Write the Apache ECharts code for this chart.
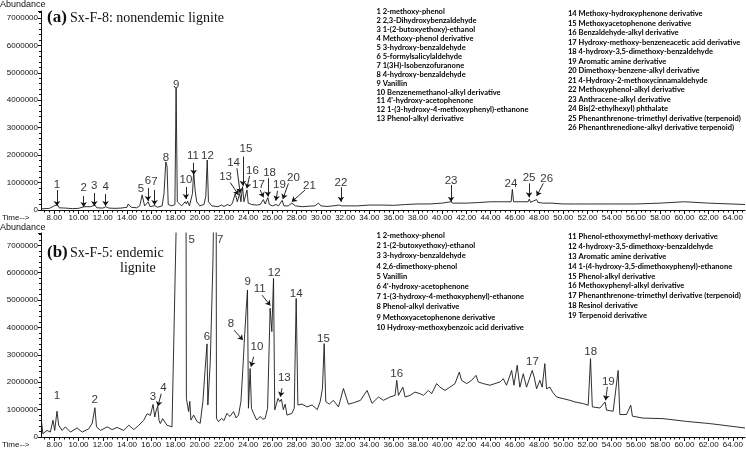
<!DOCTYPE html>
<html>
<head>
<meta charset="utf-8">
<script src="https://cdn.jsdelivr.net/npm/echarts@6/dist/echarts.min.js"></script>
<style>
    html, body { margin: 0; padding: 0; background: #fff; }
    #chart { width: 746px; height: 449px; }
</style>
</head>
<body>
<div id="chart"></div>
<script>
    // retention time (min), abundance (millions)
    var topTrace = [
        [6.9,0.04],[7.6,0.06],[7.95,0.14],[8.05,0.07],[8.25,0.2],[8.4,0.08],[8.9,0.07],[9.5,0.05],
        [10.0,0.06],[10.45,0.12],[10.6,0.07],[11.0,0.12],[11.1,0.07],[11.35,0.18],[11.5,0.08],
        [12.0,0.07],[12.25,0.12],[12.5,0.07],[13.0,0.06],[13.5,0.07],[14.0,0.1],[14.1,0.22],
        [14.35,0.1],[14.8,0.08],[15.05,0.15],[15.25,0.55],[15.45,0.15],[15.75,0.3],[15.9,0.12],
        [16.3,0.16],[16.5,0.1],[16.9,0.15],[17.05,0.6],[17.2,1.75],[17.3,1.6],[17.4,0.2],
        [17.7,0.15],[17.95,0.2],[18.05,4.45],[18.15,0.3],[18.5,0.15],[18.8,0.3],[18.9,0.22],
        [19.0,0.32],[19.15,0.15],[19.4,0.6],[19.5,1.4],[19.62,0.7],[19.75,0.3],[20.0,0.15],
        [20.35,0.2],[20.5,0.5],[20.62,1.82],[20.72,0.3],[21.0,0.15],[21.5,0.12],[21.8,0.18],
        [22.0,0.13],[22.3,0.2],[22.5,0.15],[22.7,0.25],[22.93,0.6],[23.1,0.3],[23.3,0.6],
        [23.4,0.3],[23.53,0.85],[23.65,0.3],[23.9,0.73],[24.0,0.25],[24.3,0.2],[24.7,0.18],
        [25.0,0.2],[25.25,0.38],[25.4,0.22],[25.62,0.45],[25.75,0.2],[26.0,0.15],[26.3,0.2],
        [26.5,0.15],[26.8,0.35],[26.95,0.15],[27.3,0.15],[27.6,0.25],[27.9,0.15],[28.5,0.12],
        [29.0,0.14],[29.5,0.15],[29.8,0.25],[30.0,0.15],[30.5,0.13],[31.0,0.15],[31.5,0.18],
        [31.7,0.15],[32.5,0.15],[33.0,0.15],[34.0,0.18],[35.0,0.18],[36.0,0.17],[37.0,0.2],
        [38.0,0.22],[39.0,0.22],[40.0,0.25],[40.7,0.3],[40.9,0.25],[42.0,0.25],[43.0,0.27],
        [44.0,0.3],[45.0,0.3],[45.7,0.3],[45.8,0.75],[45.9,0.3],[46.5,0.3],[47.1,0.3],[47.2,0.4],
        [47.3,0.28],[47.8,0.38],[47.9,0.28],[48.3,0.25],[49.0,0.25],[50.0,0.22],[51.0,0.22],
        [52.0,0.22],[54.0,0.22],[56.0,0.22],[58.0,0.25],[60.0,0.3],[62.0,0.25],[65.0,0.2]
    ];

    var bottomTrace = [
        [6.93,0.61],[7.05,0.12],[7.4,0.24],[7.67,0.18],[7.89,0.61],[8.03,0.24],[8.22,0.94],
        [8.36,0.43],[8.64,0.24],[8.91,0.37],[9.33,0.18],[9.88,0.33],[10.3,0.18],[10.85,0.3],
        [11.13,0.51],[11.35,1.07],[11.48,0.37],[11.81,0.24],[12.36,0.37],[12.77,0.27],[13.18,0.35],
        [13.73,0.24],[14.15,0.43],[14.56,0.27],[14.97,0.43],[15.38,0.61],[15.66,0.85],[15.93,0.79],
        [16.15,1.19],[16.29,0.73],[16.42,0.99],[16.53,1.12],[16.64,0.61],[16.75,0.49],[16.94,0.67],
        [17.3,0.43],[17.71,0.37],[17.82,0.35],[18.1,8.6],[18.5,15],[18.87,8],[18.9,1.41],
        [19.08,0.93],[19.18,1.3],[19.27,0.62],[19.5,0.8],[19.77,0.57],[20.04,0.5],[20.26,1.29],
        [20.45,2.5],[20.6,3.4],[20.67,1.17],[20.87,2.76],[21.09,6.4],[21.28,12],[21.36,8],
        [21.38,0.68],[21.55,0.56],[21.8,0.68],[22.0,0.6],[22.24,0.86],[22.5,0.75],[22.79,0.93],
        [23.0,0.7],[23.2,0.8],[23.4,1.29],[23.56,2.5],[23.67,3.42],[23.84,4.7],[23.94,5.37],
        [24.02,1.05],[24.16,2.5],[24.27,1.05],[24.44,0.86],[24.7,0.62],[24.99,0.75],[25.2,0.65],
        [25.4,0.68],[25.6,1.05],[25.81,4.7],[25.95,3.85],[26.09,5.79],[26.19,0.99],[26.46,1.41],
        [26.6,1.29],[26.74,1.38],[26.9,1.0],[27.05,1.2],[27.2,0.8],[27.6,0.86],[27.8,1.05],
        [27.96,5.06],[28.1,1.17],[28.45,1.2],[28.85,1.1],[29.27,1.17],[29.7,1.0],[29.94,1.29],
        [30.13,1.78],[30.27,3.41],[30.4,1.29],[30.7,1.2],[31.03,1.34],[31.45,1.1],[31.86,1.77],
        [32.27,1.2],[32.7,1.25],[33.27,1.34],[33.81,1.7],[34.22,1.23],[34.75,1.46],[35.16,1.34],
        [35.71,1.46],[36.12,1.52],[36.26,2.07],[36.4,1.52],[36.76,1.82],[36.95,1.46],[37.36,1.52],
        [37.77,1.64],[38.19,1.58],[38.46,1.52],[38.87,1.7],[39.14,1.58],[39.55,1.95],[39.83,1.82],
        [40.24,1.7],[40.65,1.82],[41.07,1.95],[41.42,2.37],[41.61,2.07],[42.03,1.95],[42.44,2.07],
        [42.8,2.25],[42.99,2.01],[43.4,1.95],[43.95,1.89],[44.36,1.95],[44.78,2.01],[45.05,2.13],
        [45.32,1.89],[45.74,2.43],[45.93,1.89],[46.2,2.62],[46.42,1.82],[46.7,2.31],[46.97,1.82],
        [47.44,2.43],[47.6,2.19],[47.8,1.76],[48.07,2.07],[48.26,1.82],[48.48,2.68],[48.62,1.76],
        [48.9,1.82],[49.12,1.64],[49.45,1.46],[50.0,1.4],[50.55,1.34],[50.96,1.28],[51.65,1.22],
        [52.06,1.16],[52.25,2.86],[52.4,1.1],[53.03,1.06],[53.45,1.28],[53.57,0.98],[54.12,0.94],
        [54.53,2.43],[54.67,0.82],[55.22,0.82],[55.57,1.16],[55.71,0.76],[56.59,0.69],[58.24,0.67],
        [60.16,0.57],[62.09,0.49],[65.0,0.33]
    ];

    // peak numbers: [label, time, abundance]
    var topPeakLabels = [
        ['1',8.22,0.91],['2',10.42,0.79],['3',11.3,0.88],['4',12.23,0.83],['5',15.15,0.76],
        ['6',15.73,1.06],['7',16.27,1.01],['8',17.21,1.91],['9',18.06,4.56],['10',18.86,1.09],
        ['11',19.44,1.97],['12',20.64,1.97],['13',22.13,1.22],['14',22.79,1.73],['15',23.81,2.22],
        ['16',24.35,1.42],['17',24.85,0.91],['18',25.76,1.36],['19',26.58,0.91],['20',27.74,1.18],
        ['21',29.06,0.88],['22',31.65,1.0],['23',40.74,1.07],['24',45.69,0.97],['25',47.18,1.16],
        ['26',48.63,1.13]
    ];
    // arrows: [fromTime, fromAbund, toTime, toAbund]
    var topArrows = [
        [8.22,0.73,8.22,0.15],[10.42,0.51,10.42,0.11],[11.3,0.62,11.3,0.15],[12.23,0.58,12.23,0.15],
        [15.73,0.8,15.73,0.33],[16.27,0.73,16.27,0.18],[18.86,0.84,18.86,0.4],[19.5,1.72,19.5,1.28],
        [22.52,1.0,23.2,0.55],[23.07,1.52,23.34,0.61],[23.56,1.95,23.56,0.88],[24.11,1.24,23.89,0.79],
        [24.99,0.73,25.26,0.46],[25.62,1.16,25.62,0.49],[26.42,0.7,26.28,0.34],[27.32,0.97,26.86,0.4],
        [28.7,0.73,27.6,0.3],[31.65,0.83,31.65,0.3],[40.74,0.91,40.74,0.3],[47.18,0.97,47.18,0.46],
        [48.35,0.97,47.81,0.51]
    ];

    var bottomPeakLabels = [
        ['1',8.22,1.52],['2',11.33,1.34],['3',16.14,1.46],['4',17.0,1.8],['5',19.34,7.19],
        ['6',20.59,3.65],['7',21.69,7.19],['8',22.57,4.15],['9',23.95,5.67],['10',24.72,3.3],
        ['11',24.95,5.4],['12',26.14,6.01],['13',26.98,2.17],['14',27.96,5.24],['15',30.21,3.6],
        ['16',36.26,2.31],['17',47.46,2.74],['18',52.26,3.1],['19',53.72,2.0]
    ];
    var bottomArrows = [
        [16.82,1.58,16.55,1.12],[22.84,3.9,23.56,3.54],[24.45,2.93,24.23,2.57],
        [25.14,5.18,25.83,4.8],[26.79,1.78,26.65,1.47],[53.64,1.83,53.5,1.34]
    ];

    var topCompounds = [
        '2-methoxy-phenol', '2,3-Dihydroxybenzaldehyde', '1-(2-butoxyethoxy)-ethanol',
        'Methoxy-phenol derivative', '3-hydroxy-benzaldehyde', '5-formylsalicylaldehyde',
        '1(3H)-Isobenzofuranone', '4-hydroxy-benzaldehyde', 'Vanillin',
        'Benzenemethanol-alkyl derivative', '4\'-hydroxy-acetophenone',
        '1-(3-hydroxy-4-methoxyphenyl)-ethanone', 'Phenol-alkyl derivative',
        'Methoxy-hydroxyphenone derivative', 'Methoxyacetophenone derivative',
        'Benzaldehyde-alkyl derivative', 'Hydroxy-methoxy-benzeneacetic acid derivative',
        '4-hydroxy-3,5-dimethoxy-benzaldehyde', 'Aromatic amine derivative',
        'Dimethoxy-benzene-alkyl derivative', '4-Hydroxy-2-methoxycinnamaldehyde',
        'Methoxyphenol-alkyl derivative', 'Anthracene-alkyl derivative',
        'Bis(2-ethylhexyl) phthalate', 'Phenanthrenone-trimethyl derivative (terpenoid)',
        'Phenanthrenedione-alkyl derivative terpenoid)'
    ];
    var bottomCompounds = [
        '2-methoxy-phenol', '1-(2-butoxyethoxy)-ethanol', '3-hydroxy-benzaldehyde',
        '2,6-dimethoxy-phenol', 'Vanillin', '4\'-hydroxy-acetophenone',
        '1-(3-hydroxy-4-methoxyphenyl)-ethanone', 'Phenol-alkyl derivative',
        'Methoxyacetophenone derivative', 'Hydroxy-methoxybenzoic acid derivative',
        'Phenol-ethoxymethyl-methoxy derivative', '4-hydroxy-3,5-dimethoxy-benzaldehyde',
        'Aromatic amine derivative', '1-(4-hydroxy-3,5-dimethoxyphenyl)-ethanone',
        'Phenol-alkyl derivative', 'Methoxyphenyl-alkyl derivative',
        'Phenanthrenone-trimethyl derivative (terpenoid)', 'Resinol derivative',
        'Terpenoid derivative'
    ];

    var timeLabels = [8, 10, 12, 14, 16, 18, 20, 22, 24, 26, 28, 30, 32, 34, 36, 38, 40, 42,
        44, 46, 48, 50, 52, 54, 56, 58, 60, 62, 64];
    var timeMin = 6.9, timeMax = 65;

    var minorTimes = [];
    for (var k = 18; k <= 162; k++) {
        minorTimes.push(Math.round(k * 4) / 10);
    }

    var sans = 'Liberation Sans';
    var serif = 'Liberation Serif';
    var legendFont = 'Lato';

    function mainX(gridIndex) {
        return {
            type: 'value', gridIndex: gridIndex, position: 'bottom', min: timeMin, max: timeMax,
            splitLine: { show: false },
            axisLine: { lineStyle: { color: '#111', width: 1 } },
            axisTick: { customValues: timeLabels, length: 4, lineStyle: { color: '#111' } },
            axisLabel: {
                customValues: timeLabels, margin: 4, fontSize: 8, fontFamily: sans, color: '#111',
                formatter: function (v) { return v.toFixed(2); }
            }
        };
    }

    // second axis on the same grid, only for the small ticks
    function minorX(gridIndex) {
        return {
            type: 'value', gridIndex: gridIndex, position: 'bottom', min: timeMin, max: timeMax,
            splitLine: { show: false },
            axisLine: { show: false },
            axisTick: { customValues: minorTimes, length: 2.5, lineStyle: { color: '#111' } },
            axisLabel: { show: false }
        };
    }

    function yAx(gridIndex, max) {
        return {
            type: 'value', gridIndex: gridIndex, min: 0, max: max, interval: 1,
            splitLine: { show: false },
            axisLine: { show: true, lineStyle: { color: '#111', width: 1 } },
            axisTick: { show: true, length: 3, lineStyle: { color: '#111' } },
            minorTick: { show: true, splitNumber: 5, length: 2, lineStyle: { color: '#111' } },
            axisLabel: {
                margin: 3, fontSize: 8, fontFamily: sans, color: '#111',
                formatter: function (v) {
                    return Math.abs(v - Math.round(v)) < 1e-9 ? String(Math.round(v) * 1000000) : '';
                }
            }
        };
    }

    function arrowData(arrows) {
        return arrows.map(function (a) {
            return [{ coord: [a[0], a[1]] }, { coord: [a[2], a[3]] }];
        });
    }

    function traceSeries(trace, arrows, axisIndex) {
        return {
            type: 'line', xAxisIndex: axisIndex, yAxisIndex: axisIndex / 2,
            data: trace, showSymbol: false, symbol: 'none', silent: true,
            lineStyle: { color: '#1a1a1a', width: 0.9 },
            markLine: {
                silent: true, symbol: ['none', 'arrow'], symbolSize: 5,
                label: { show: false },
                lineStyle: { color: '#111', width: 0.9, type: 'solid' },
                data: arrowData(arrows)
            }
        };
    }

    function labelSeries(labels, axisIndex) {
        return {
            type: 'scatter', xAxisIndex: axisIndex, yAxisIndex: axisIndex / 2, silent: true,
            data: labels.map(function (p) { return { value: [p[1], p[2]], name: p[0] }; }),
            symbol: 'circle', symbolSize: 1, itemStyle: { color: 'rgba(0,0,0,0)' },
            label: {
                show: true, position: 'inside', fontSize: 11.5, fontFamily: sans, color: '#000',
                formatter: '{b}'
            },
            labelLayout: { hideOverlap: false }
        };
    }

    function legendTexts(names, startNo, x, y0, step) {
        return names.map(function (n, i) {
            return {
                type: 'text', x: x, y: y0 + i * step, silent: true, z: 100,
                style: {
                    text: (startNo + i) + ' ' + n, fontSize: 7.5, fontFamily: legendFont,
                    fontWeight: 'bold', fill: '#000', verticalAlign: 'middle', align: 'left'
                }
            };
        });
    }

    function plainText(text, x, y, size, family, weight) {
        return {
            type: 'text', x: x, y: y, silent: true, z: 100,
            style: {
                text: text, fontSize: size, fontFamily: family, fontWeight: weight || 'normal',
                fill: '#111', verticalAlign: 'middle', align: 'left'
            }
        };
    }

    var graphics = []
        .concat(legendTexts(topCompounds.slice(0, 13), 1, 376.5, 12, 8.9))
        .concat(legendTexts(topCompounds.slice(13), 14, 568, 14, 9.5))
        .concat(legendTexts(bottomCompounds.slice(0, 10), 1, 376.5, 235.5, 10.2))
        .concat(legendTexts(bottomCompounds.slice(10), 11, 568, 237, 9.8))
        .concat([
            plainText('(a)', 47, 18, 17, serif, 'bold'),
            plainText('Sx-F-8: nonendemic lignite', 70, 18, 14, serif),
            plainText('(b)', 47, 253, 17, serif, 'bold'),
            plainText('Sx-F-5: endemic', 70, 253, 14, serif),
            plainText('lignite', 120, 268, 14, serif),
            plainText('Abundance', 0, 5, 9, sans),
            plainText('Abundance', 0, 228, 9, sans),
            plainText('Time-->', 2, 218, 8, sans),
            plainText('Time-->', 2, 445, 8, sans)
        ]);

    var option = {
        animation: false,
        backgroundColor: '#fff',
        grid: [
            { left: 41, top: 11, width: 704, height: 199 },
            { left: 41, top: 233, width: 704, height: 204 }
        ],
        xAxis: [mainX(0), minorX(0), mainX(1), minorX(1)],
        yAxis: [yAx(0, 7.25), yAx(1, 7.45)],
        series: [
            traceSeries(topTrace, topArrows, 0),
            labelSeries(topPeakLabels, 0),
            traceSeries(bottomTrace, bottomArrows, 2),
            labelSeries(bottomPeakLabels, 2)
        ],
        graphic: graphics
    };

    var myChart = echarts.init(document.getElementById('chart'));
    myChart.setOption(option);
</script>
</body>
</html>
